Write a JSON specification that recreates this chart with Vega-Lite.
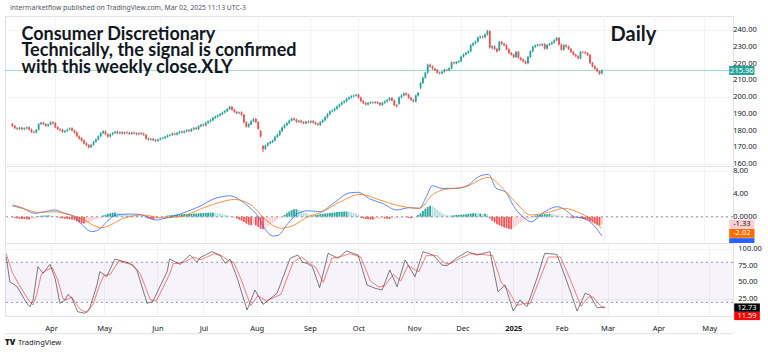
{
"$schema":"https://vega.github.io/schema/vega-lite/v6.json",
"padding":{"left":3,"top":4,"right":0,"bottom":0},
"background":"#ffffff",
"spacing":0,
"bounds":"flush",
"resolve":{"scale":{"color":"independent"}},
"config":{
 "font":"Noto Sans",
 "view":{"stroke":"#e0e3eb"},
 "axis":{"labelFont":"Noto Sans","labelFontSize":7.5,"labelColor":"#131722","gridColor":"#f0f3fa","gridWidth":1,"domain":false,"ticks":false,"title":null,"labelFlush":false,"labelOverlap":false}
},
"datasets":{
"months":[{"m":0},{"m":22},{"m":44},{"m":63},{"m":85},{"m":107},{"m":127},{"m":150},{"m":170},{"m":191},{"m":211},{"m":230},{"m":251},{"m":272}],
"pticks":[{"v":160},{"v":170},{"v":180},{"v":190},{"v":200},{"v":210},{"v":220},{"v":230},{"v":240}],
"mticks":[{"v":0,"t":"0.0000"},{"v":4,"t":"4.00"},{"v":8,"t":"8.00"}],
"sticks":[{"v":25},{"v":50},{"v":75},{"v":100}],
"bars":[
{"i":-18,"o":184.0,"h":184.6,"l":182.2,"c":182.8,"g":-0.1},
{"i":-17,"o":182.8,"h":183.3,"l":180.9,"c":181.5,"g":-0.2},
{"i":-16,"o":181.4,"h":182.0,"l":180.4,"c":181.0,"g":-0.3},
{"i":-15,"o":181.0,"h":182.2,"l":180.4,"c":181.6,"g":-0.35},
{"i":-14,"o":181.7,"h":182.3,"l":180.3,"c":180.9,"g":-0.4},
{"i":-13,"o":180.8,"h":181.9,"l":180.2,"c":181.3,"g":-0.4},
{"i":-12,"o":181.3,"h":182.4,"l":180.7,"c":181.8,"g":-0.45},
{"i":-11,"o":181.9,"h":182.5,"l":180.0,"c":180.6,"g":-0.5},
{"i":-10,"o":180.5,"h":181.1,"l":178.6,"c":179.2,"g":-0.45},
{"i":-9,"o":179.3,"h":179.9,"l":178.3,"c":178.9,"g":-0.4},
{"i":-8,"o":178.9,"h":181.0,"l":178.3,"c":180.4,"g":-0.3},
{"i":-7,"o":180.6,"h":184.4,"l":180.0,"c":183.8,"g":0.1},
{"i":-6,"o":183.9,"h":185.2,"l":183.3,"c":184.6,"g":0.15},
{"i":-5,"o":184.6,"h":185.2,"l":183.3,"c":183.9,"g":0.2},
{"i":-4,"o":183.8,"h":184.4,"l":182.2,"c":182.8,"g":0.2},
{"i":-3,"o":182.9,"h":184.2,"l":182.3,"c":183.6,"g":0.25},
{"i":-2,"o":183.7,"h":185.5,"l":183.1,"c":184.9,"g":0.2},
{"i":-1,"o":184.9,"h":185.5,"l":183.7,"c":184.3,"g":0.15},
{"i":0,"o":184.4,"h":185.0,"l":181.4,"c":182.0,"g":0.1},
{"i":1,"o":182.0,"h":182.6,"l":180.2,"c":180.8,"g":-0.1},
{"i":2,"o":180.7,"h":181.3,"l":179.6,"c":180.2,"g":-0.2},
{"i":3,"o":180.3,"h":180.9,"l":178.7,"c":179.3,"g":-0.3},
{"i":4,"o":179.2,"h":180.4,"l":178.6,"c":179.8,"g":-0.35},
{"i":5,"o":179.8,"h":181.2,"l":179.2,"c":180.6,"g":-0.4},
{"i":6,"o":180.7,"h":181.8,"l":180.1,"c":181.2,"g":-0.45},
{"i":7,"o":181.3,"h":181.9,"l":179.5,"c":180.1,"g":-0.5},
{"i":8,"o":180.0,"h":180.6,"l":178.2,"c":178.8,"g":-0.6},
{"i":9,"o":178.9,"h":179.5,"l":176.0,"c":176.6,"g":-0.8},
{"i":10,"o":176.5,"h":177.1,"l":174.6,"c":175.2,"g":-1.0},
{"i":11,"o":175.4,"h":176.0,"l":173.4,"c":174.0,"g":-1.15},
{"i":12,"o":174.1,"h":174.7,"l":171.7,"c":172.3,"g":-1.2},
{"i":13,"o":172.4,"h":173.0,"l":170.6,"c":171.2,"g":-1.1},
{"i":14,"o":171.3,"h":171.9,"l":169.2,"c":170.0,"g":-1.0},
{"i":15,"o":170.2,"h":172.0,"l":169.6,"c":171.4,"g":-0.8},
{"i":16,"o":171.5,"h":173.8,"l":170.9,"c":173.2,"g":-0.6},
{"i":17,"o":173.3,"h":175.2,"l":172.7,"c":174.6,"g":-0.45},
{"i":18,"o":174.7,"h":177.1,"l":174.1,"c":176.5,"g":-0.3},
{"i":19,"o":176.6,"h":179.0,"l":176.0,"c":178.4,"g":-0.15},
{"i":20,"o":178.5,"h":180.2,"l":177.9,"c":179.6,"g":0.2},
{"i":21,"o":179.5,"h":180.1,"l":177.2,"c":177.8,"g":0.35},
{"i":22,"o":177.7,"h":178.3,"l":175.8,"c":176.4,"g":0.5},
{"i":23,"o":176.5,"h":178.2,"l":175.9,"c":177.6,"g":0.6},
{"i":24,"o":177.7,"h":179.1,"l":177.1,"c":178.5,"g":0.7},
{"i":25,"o":178.6,"h":179.8,"l":178.0,"c":179.2,"g":0.75},
{"i":26,"o":179.3,"h":179.9,"l":177.8,"c":178.4,"g":0.7},
{"i":27,"o":178.4,"h":179.5,"l":177.8,"c":178.9,"g":0.6},
{"i":28,"o":179.0,"h":179.6,"l":177.6,"c":178.2,"g":0.5},
{"i":29,"o":178.2,"h":179.4,"l":177.6,"c":178.8,"g":0.45},
{"i":30,"o":178.9,"h":179.5,"l":177.9,"c":178.5,"g":0.4},
{"i":31,"o":178.6,"h":179.2,"l":177.4,"c":178.0,"g":0.35},
{"i":32,"o":178.0,"h":179.3,"l":177.4,"c":178.7,"g":0.3},
{"i":33,"o":178.8,"h":179.4,"l":177.7,"c":178.3,"g":0.25},
{"i":34,"o":178.3,"h":178.9,"l":177.2,"c":177.8,"g":0.2},
{"i":35,"o":177.8,"h":179.0,"l":177.2,"c":178.4,"g":0.15},
{"i":36,"o":178.5,"h":179.1,"l":177.5,"c":178.1,"g":0.1},
{"i":37,"o":178.1,"h":178.7,"l":176.9,"c":177.5,"g":0.05},
{"i":38,"o":177.4,"h":178.0,"l":174.6,"c":175.2,"g":-0.2},
{"i":39,"o":175.3,"h":175.9,"l":174.0,"c":174.6,"g":-0.35},
{"i":40,"o":174.6,"h":175.6,"l":174.0,"c":175.0,"g":-0.45},
{"i":41,"o":175.0,"h":175.6,"l":173.7,"c":174.3,"g":-0.5},
{"i":42,"o":174.3,"h":174.9,"l":173.2,"c":173.8,"g":-0.45},
{"i":43,"o":173.9,"h":175.2,"l":173.3,"c":174.6,"g":-0.35},
{"i":44,"o":174.7,"h":175.9,"l":174.1,"c":175.3,"g":-0.25},
{"i":45,"o":175.4,"h":176.2,"l":174.8,"c":175.6,"g":-0.1},
{"i":46,"o":175.6,"h":176.9,"l":175.0,"c":176.3,"g":0.1},
{"i":47,"o":176.3,"h":177.6,"l":175.7,"c":177.0,"g":0.2},
{"i":48,"o":177.1,"h":178.0,"l":176.5,"c":177.4,"g":0.25},
{"i":49,"o":177.4,"h":178.7,"l":176.8,"c":178.1,"g":0.3},
{"i":50,"o":178.2,"h":178.8,"l":177.1,"c":177.7,"g":0.35},
{"i":51,"o":177.7,"h":179.2,"l":177.1,"c":178.6,"g":0.4},
{"i":52,"o":178.6,"h":179.9,"l":178.0,"c":179.3,"g":0.4},
{"i":53,"o":179.4,"h":180.0,"l":178.3,"c":178.9,"g":0.45},
{"i":54,"o":178.9,"h":180.2,"l":178.3,"c":179.6,"g":0.45},
{"i":55,"o":179.6,"h":180.8,"l":179.0,"c":180.2,"g":0.5},
{"i":56,"o":180.3,"h":180.9,"l":179.1,"c":179.7,"g":0.5},
{"i":57,"o":179.7,"h":181.4,"l":179.1,"c":180.8,"g":0.5},
{"i":58,"o":180.8,"h":182.1,"l":180.2,"c":181.5,"g":0.55},
{"i":59,"o":181.6,"h":182.2,"l":180.4,"c":181.0,"g":0.55},
{"i":60,"o":181.0,"h":183.2,"l":180.4,"c":182.6,"g":0.6},
{"i":61,"o":182.6,"h":184.1,"l":182.0,"c":183.5,"g":0.6},
{"i":62,"o":183.6,"h":184.2,"l":182.5,"c":183.1,"g":0.65},
{"i":63,"o":183.1,"h":185.2,"l":182.5,"c":184.6,"g":0.65},
{"i":64,"o":184.6,"h":186.1,"l":184.0,"c":185.5,"g":0.7},
{"i":65,"o":185.5,"h":186.8,"l":184.9,"c":186.2,"g":0.7},
{"i":66,"o":186.2,"h":188.1,"l":185.6,"c":187.5,"g":0.7},
{"i":67,"o":187.5,"h":188.9,"l":186.9,"c":188.3,"g":0.65},
{"i":68,"o":188.3,"h":189.6,"l":187.7,"c":189.0,"g":0.6},
{"i":69,"o":189.0,"h":190.5,"l":188.4,"c":189.9,"g":0.5},
{"i":70,"o":189.9,"h":191.4,"l":189.3,"c":190.8,"g":0.45},
{"i":71,"o":190.8,"h":192.2,"l":190.2,"c":191.6,"g":0.35},
{"i":72,"o":191.6,"h":193.4,"l":191.0,"c":192.8,"g":0.25},
{"i":73,"o":192.8,"h":194.8,"l":192.2,"c":194.2,"g":0.15},
{"i":74,"o":194.1,"h":194.7,"l":191.9,"c":192.5,"g":0.05},
{"i":75,"o":192.5,"h":193.1,"l":190.6,"c":191.2,"g":-0.1},
{"i":76,"o":191.1,"h":191.7,"l":189.8,"c":190.4,"g":-0.3},
{"i":77,"o":190.4,"h":191.4,"l":189.8,"c":190.8,"g":-0.5},
{"i":78,"o":190.9,"h":191.5,"l":188.9,"c":189.5,"g":-0.7},
{"i":79,"o":189.4,"h":190.0,"l":184.4,"c":185.0,"g":-0.9},
{"i":80,"o":184.9,"h":185.5,"l":181.7,"c":182.3,"g":-1.2},
{"i":81,"o":182.3,"h":184.4,"l":181.7,"c":183.8,"g":-1.4},
{"i":82,"o":183.8,"h":186.2,"l":183.2,"c":185.6,"g":-1.5},
{"i":83,"o":185.6,"h":187.4,"l":185.0,"c":186.8,"g":-1.3},
{"i":84,"o":186.9,"h":187.5,"l":184.5,"c":185.1,"g":-1.5},
{"i":85,"o":185.0,"h":185.6,"l":180.4,"c":181.0,"g":-1.8},
{"i":86,"o":179.8,"h":180.4,"l":175.9,"c":176.5,"g":-2.1},
{"i":87,"o":170.8,"h":171.4,"l":167.0,"c":168.8,"g":-2.2},
{"i":88,"o":169.0,"h":171.6,"l":168.4,"c":171.0,"g":-2.0},
{"i":89,"o":171.1,"h":173.0,"l":170.5,"c":172.4,"g":-1.7},
{"i":90,"o":172.4,"h":173.8,"l":171.8,"c":173.2,"g":-1.4},
{"i":91,"o":173.2,"h":174.6,"l":172.6,"c":174.0,"g":-1.1},
{"i":92,"o":174.0,"h":176.8,"l":173.4,"c":176.2,"g":-0.8},
{"i":93,"o":176.2,"h":178.0,"l":175.6,"c":177.4,"g":-0.5},
{"i":94,"o":177.4,"h":180.2,"l":176.8,"c":179.6,"g":-0.25},
{"i":95,"o":179.6,"h":182.4,"l":179.0,"c":181.8,"g":0.0},
{"i":96,"o":181.8,"h":183.8,"l":181.2,"c":183.2,"g":0.3},
{"i":97,"o":183.2,"h":185.0,"l":182.6,"c":184.4,"g":0.6},
{"i":98,"o":184.4,"h":186.6,"l":183.8,"c":186.0,"g":0.9},
{"i":99,"o":186.0,"h":187.7,"l":185.4,"c":187.1,"g":1.15},
{"i":100,"o":187.2,"h":187.8,"l":185.9,"c":186.5,"g":1.3},
{"i":101,"o":186.5,"h":187.1,"l":184.6,"c":185.2,"g":1.3},
{"i":102,"o":185.2,"h":186.4,"l":184.6,"c":185.8,"g":1.2},
{"i":103,"o":185.9,"h":186.5,"l":184.4,"c":185.0,"g":1.0},
{"i":104,"o":185.0,"h":185.6,"l":183.8,"c":184.4,"g":0.8},
{"i":105,"o":184.4,"h":185.9,"l":183.8,"c":185.3,"g":0.6},
{"i":106,"o":185.4,"h":186.0,"l":184.3,"c":184.9,"g":0.45},
{"i":107,"o":184.9,"h":186.2,"l":184.3,"c":185.6,"g":0.35},
{"i":108,"o":185.6,"h":186.2,"l":184.2,"c":184.8,"g":0.3},
{"i":109,"o":184.8,"h":185.4,"l":183.4,"c":184.0,"g":0.3},
{"i":110,"o":184.0,"h":184.6,"l":182.8,"c":183.4,"g":0.35},
{"i":111,"o":183.4,"h":185.7,"l":182.8,"c":185.1,"g":0.45},
{"i":112,"o":185.1,"h":186.8,"l":184.5,"c":186.2,"g":0.5},
{"i":113,"o":186.2,"h":188.5,"l":185.6,"c":187.9,"g":0.55},
{"i":114,"o":187.9,"h":190.4,"l":187.3,"c":189.8,"g":0.6},
{"i":115,"o":189.8,"h":192.0,"l":189.2,"c":191.4,"g":0.65},
{"i":116,"o":191.4,"h":192.6,"l":190.8,"c":192.0,"g":0.7},
{"i":117,"o":192.0,"h":193.7,"l":191.4,"c":193.1,"g":0.75},
{"i":118,"o":193.1,"h":195.0,"l":192.5,"c":194.4,"g":0.8},
{"i":119,"o":194.4,"h":196.2,"l":193.8,"c":195.6,"g":0.85},
{"i":120,"o":195.6,"h":197.4,"l":195.0,"c":196.8,"g":0.85},
{"i":121,"o":196.8,"h":198.1,"l":196.2,"c":197.5,"g":0.9},
{"i":122,"o":197.5,"h":199.5,"l":196.9,"c":198.9,"g":0.9},
{"i":123,"o":198.9,"h":200.4,"l":198.3,"c":199.8,"g":0.85},
{"i":124,"o":199.8,"h":201.1,"l":199.2,"c":200.5,"g":0.8},
{"i":125,"o":200.5,"h":201.5,"l":199.9,"c":200.9,"g":0.7},
{"i":126,"o":200.9,"h":202.0,"l":200.3,"c":201.4,"g":0.55},
{"i":127,"o":201.4,"h":202.0,"l":199.1,"c":199.7,"g":0.4},
{"i":128,"o":199.7,"h":200.3,"l":197.0,"c":197.6,"g":-0.2},
{"i":129,"o":197.6,"h":198.2,"l":195.8,"c":196.4,"g":-0.3},
{"i":130,"o":196.4,"h":197.0,"l":195.0,"c":195.6,"g":-0.4},
{"i":131,"o":195.6,"h":197.1,"l":195.0,"c":196.5,"g":-0.45},
{"i":132,"o":196.5,"h":197.5,"l":195.9,"c":196.9,"g":-0.5},
{"i":133,"o":196.9,"h":197.5,"l":196.0,"c":196.6,"g":-0.5},
{"i":134,"o":196.6,"h":197.6,"l":196.0,"c":197.0,"g":-0.45},
{"i":135,"o":197.0,"h":197.6,"l":195.8,"c":196.4,"g":-0.4},
{"i":136,"o":196.4,"h":197.0,"l":194.8,"c":195.4,"g":-0.35},
{"i":137,"o":195.4,"h":197.2,"l":194.8,"c":196.6,"g":-0.3},
{"i":138,"o":196.6,"h":198.0,"l":196.0,"c":197.4,"g":-0.3},
{"i":139,"o":197.4,"h":198.9,"l":196.8,"c":198.3,"g":-0.35},
{"i":140,"o":198.3,"h":200.0,"l":197.7,"c":199.4,"g":-0.4},
{"i":141,"o":199.4,"h":200.0,"l":197.4,"c":198.0,"g":-0.35},
{"i":142,"o":198.0,"h":198.6,"l":194.6,"c":195.2,"g":-0.3},
{"i":143,"o":195.2,"h":195.8,"l":193.8,"c":194.4,"g":-0.25},
{"i":144,"o":196.0,"h":200.4,"l":195.4,"c":199.8,"g":-0.2},
{"i":145,"o":199.8,"h":201.6,"l":199.2,"c":201.0,"g":-0.15},
{"i":146,"o":201.0,"h":202.8,"l":200.4,"c":202.2,"g":-0.1},
{"i":147,"o":202.2,"h":202.8,"l":200.8,"c":201.4,"g":-0.1},
{"i":148,"o":201.4,"h":202.0,"l":199.0,"c":199.6,"g":-0.2},
{"i":149,"o":199.6,"h":200.2,"l":197.8,"c":198.4,"g":-0.25},
{"i":150,"o":198.4,"h":199.0,"l":196.8,"c":197.4,"g":-0.2},
{"i":151,"o":197.4,"h":201.5,"l":196.8,"c":200.9,"g":-0.1},
{"i":152,"o":200.9,"h":203.0,"l":200.3,"c":202.4,"g":0.3},
{"i":153,"o":205.5,"h":209.0,"l":204.9,"c":208.4,"g":0.6},
{"i":154,"o":208.4,"h":212.2,"l":207.8,"c":211.6,"g":1.0},
{"i":155,"o":211.6,"h":215.2,"l":211.0,"c":214.6,"g":1.4},
{"i":156,"o":214.6,"h":219.9,"l":214.0,"c":219.3,"g":1.7},
{"i":157,"o":219.3,"h":220.0,"l":217.7,"c":218.3,"g":1.9},
{"i":158,"o":218.3,"h":218.9,"l":216.4,"c":217.0,"g":1.8},
{"i":159,"o":217.0,"h":217.6,"l":215.6,"c":216.2,"g":1.5},
{"i":160,"o":216.2,"h":216.8,"l":214.0,"c":214.6,"g":1.2},
{"i":161,"o":214.6,"h":215.2,"l":213.6,"c":214.2,"g":0.9},
{"i":162,"o":214.2,"h":215.8,"l":213.6,"c":215.2,"g":0.6},
{"i":163,"o":215.2,"h":216.9,"l":214.6,"c":216.3,"g":0.4},
{"i":164,"o":216.3,"h":216.9,"l":215.4,"c":216.0,"g":0.3},
{"i":165,"o":216.0,"h":217.9,"l":215.4,"c":217.3,"g":0.2},
{"i":166,"o":217.3,"h":221.3,"l":216.7,"c":220.7,"g":0.2},
{"i":167,"o":220.7,"h":221.3,"l":219.6,"c":220.2,"g":0.25},
{"i":168,"o":220.2,"h":221.6,"l":219.6,"c":221.0,"g":0.3},
{"i":169,"o":221.0,"h":222.0,"l":220.4,"c":221.4,"g":0.3},
{"i":170,"o":221.4,"h":224.8,"l":220.8,"c":224.2,"g":0.35},
{"i":171,"o":224.2,"h":226.1,"l":223.6,"c":225.5,"g":0.4},
{"i":172,"o":225.5,"h":227.0,"l":224.9,"c":226.4,"g":0.45},
{"i":173,"o":226.4,"h":228.0,"l":225.8,"c":227.4,"g":0.5},
{"i":174,"o":227.4,"h":231.6,"l":226.8,"c":231.0,"g":0.55},
{"i":175,"o":231.0,"h":232.8,"l":230.4,"c":232.2,"g":0.6},
{"i":176,"o":232.2,"h":233.8,"l":231.6,"c":233.2,"g":0.6},
{"i":177,"o":233.2,"h":236.2,"l":232.6,"c":235.6,"g":0.55},
{"i":178,"o":235.6,"h":236.8,"l":235.0,"c":236.2,"g":0.55},
{"i":179,"o":236.2,"h":236.8,"l":235.2,"c":235.8,"g":0.5},
{"i":180,"o":235.8,"h":238.0,"l":235.2,"c":237.4,"g":0.5},
{"i":181,"o":237.4,"h":240.2,"l":236.8,"c":239.4,"g":0.45},
{"i":182,"o":239.4,"h":240.0,"l":229.0,"c":229.6,"g":-0.3},
{"i":183,"o":229.6,"h":231.0,"l":228.4,"c":230.4,"g":-0.7},
{"i":184,"o":230.4,"h":231.0,"l":228.2,"c":228.8,"g":-1.0},
{"i":185,"o":228.8,"h":229.4,"l":226.6,"c":227.2,"g":-1.3},
{"i":186,"o":228.0,"h":233.6,"l":227.4,"c":233.0,"g":-1.5},
{"i":187,"o":233.0,"h":233.6,"l":231.2,"c":231.8,"g":-1.7},
{"i":188,"o":231.8,"h":232.4,"l":230.4,"c":231.0,"g":-1.9},
{"i":189,"o":231.0,"h":231.6,"l":228.0,"c":228.6,"g":-2.0},
{"i":190,"o":228.6,"h":229.2,"l":225.8,"c":226.4,"g":-2.1},
{"i":191,"o":226.4,"h":227.0,"l":224.8,"c":225.4,"g":-2.2},
{"i":192,"o":225.4,"h":226.0,"l":223.4,"c":224.0,"g":-1.9},
{"i":193,"o":224.0,"h":227.6,"l":223.4,"c":227.0,"g":-1.6},
{"i":194,"o":227.0,"h":227.6,"l":222.9,"c":223.5,"g":-1.3},
{"i":195,"o":223.5,"h":224.1,"l":221.8,"c":222.4,"g":-1.0},
{"i":196,"o":222.4,"h":223.0,"l":220.7,"c":221.3,"g":-0.8},
{"i":197,"o":221.3,"h":221.9,"l":219.6,"c":220.2,"g":-0.6},
{"i":198,"o":220.2,"h":224.6,"l":219.6,"c":224.0,"g":-0.4},
{"i":199,"o":224.0,"h":228.0,"l":223.4,"c":227.4,"g":-0.2},
{"i":200,"o":227.4,"h":230.6,"l":226.8,"c":230.0,"g":0.1},
{"i":201,"o":230.0,"h":231.4,"l":229.4,"c":230.8,"g":0.2},
{"i":202,"o":230.8,"h":231.9,"l":230.2,"c":231.3,"g":0.3},
{"i":203,"o":231.3,"h":231.9,"l":230.4,"c":231.0,"g":0.35},
{"i":204,"o":231.0,"h":232.2,"l":230.4,"c":231.6,"g":0.4},
{"i":205,"o":231.6,"h":232.2,"l":228.4,"c":229.0,"g":0.45},
{"i":206,"o":229.0,"h":231.8,"l":228.4,"c":231.2,"g":0.45},
{"i":207,"o":231.2,"h":232.4,"l":230.6,"c":231.8,"g":0.5},
{"i":208,"o":231.8,"h":233.2,"l":231.2,"c":232.6,"g":0.45},
{"i":209,"o":232.6,"h":234.6,"l":232.0,"c":234.0,"g":0.4},
{"i":210,"o":234.0,"h":235.9,"l":233.4,"c":235.3,"g":0.3},
{"i":211,"o":235.3,"h":235.9,"l":230.8,"c":231.4,"g":0.2},
{"i":212,"o":231.4,"h":232.0,"l":227.8,"c":228.4,"g":0.1},
{"i":213,"o":228.4,"h":231.6,"l":227.8,"c":231.0,"g":0.05},
{"i":214,"o":231.0,"h":231.6,"l":229.6,"c":230.2,"g":0.0},
{"i":215,"o":230.2,"h":230.8,"l":228.2,"c":228.8,"g":-0.1},
{"i":216,"o":228.8,"h":229.4,"l":226.4,"c":227.0,"g":-0.2},
{"i":217,"o":227.0,"h":227.6,"l":224.8,"c":225.4,"g":-0.3},
{"i":218,"o":225.4,"h":226.0,"l":223.9,"c":224.5,"g":-0.25},
{"i":219,"o":224.5,"h":225.1,"l":222.6,"c":223.2,"g":-0.2},
{"i":220,"o":223.2,"h":227.6,"l":222.6,"c":227.0,"g":-0.3},
{"i":221,"o":227.0,"h":227.6,"l":226.2,"c":226.8,"g":-0.4},
{"i":222,"o":226.8,"h":227.4,"l":225.6,"c":226.2,"g":-0.5},
{"i":223,"o":226.2,"h":226.8,"l":224.6,"c":225.2,"g":-0.6},
{"i":224,"o":225.2,"h":225.8,"l":219.8,"c":220.4,"g":-0.8},
{"i":225,"o":220.4,"h":221.0,"l":217.8,"c":218.4,"g":-1.0},
{"i":226,"o":218.4,"h":219.0,"l":216.4,"c":217.0,"g":-1.2},
{"i":227,"o":217.0,"h":217.6,"l":214.8,"c":215.4,"g":-1.4},
{"i":228,"o":215.4,"h":216.0,"l":213.3,"c":213.9,"g":-1.5},
{"i":229,"o":214.2,"h":216.5,"l":213.6,"c":215.96,"g":-1.33}
],
"ml":[
{"i":-18,"v":2.03,"k":"m"},{"i":-14,"v":1.57,"k":"m"},{"i":-8.7,"v":0.59,"k":"m"},{"i":-4.5,"v":0.87,"k":"m"},{"i":-0.4,"v":1.17,"k":"m"},{"i":3.7,"v":0.59,"k":"m"},{"i":7.9,"v":0,"k":"m"},{"i":12,"v":-1.74,"k":"m"},{"i":15.3,"v":-2.6,"k":"m"},{"i":19,"v":-2.0,"k":"m"},{"i":21.5,"v":-0.87,"k":"m"},{"i":25.6,"v":0.3,"k":"m"},{"i":31,"v":0.47,"k":"m"},{"i":35,"v":0.4,"k":"m"},{"i":38.5,"v":0,"k":"m"},{"i":42,"v":-0.57,"k":"m"},{"i":46,"v":-0.28,"k":"m"},{"i":50,"v":0.17,"k":"m"},{"i":56,"v":1.04,"k":"m"},{"i":61.6,"v":2.03,"k":"m"},{"i":65.7,"v":3.0,"k":"m"},{"i":69.8,"v":3.48,"k":"m"},{"i":73,"v":3.65,"k":"m"},{"i":77,"v":3.0,"k":"m"},{"i":81,"v":1.74,"k":"m"},{"i":85,"v":0,"k":"m"},{"i":87.6,"v":-2.0,"k":"m"},{"i":91.3,"v":-3.36,"k":"m"},{"i":93.4,"v":-3.2,"k":"m"},{"i":97.5,"v":-1.15,"k":"m"},{"i":101.7,"v":0.59,"k":"m"},{"i":105.8,"v":1.04,"k":"m"},{"i":111,"v":0.87,"k":"m"},{"i":116.5,"v":2.33,"k":"m"},{"i":123.5,"v":4.17,"k":"m"},{"i":126.9,"v":4.24,"k":"m"},{"i":131.8,"v":3.08,"k":"m"},{"i":137,"v":2.33,"k":"m"},{"i":143,"v":1.17,"k":"m"},{"i":148.3,"v":1.57,"k":"m"},{"i":152.5,"v":1.46,"k":"m"},{"i":155.4,"v":3.48,"k":"m"},{"i":157.9,"v":5.39,"k":"m"},{"i":162,"v":4.93,"k":"m"},{"i":167.8,"v":4.93,"k":"m"},{"i":173,"v":5.5,"k":"m"},{"i":177.3,"v":6.96,"k":"m"},{"i":181.4,"v":7.37,"k":"m"},{"i":184.7,"v":4.93,"k":"m"},{"i":188.4,"v":4.35,"k":"m"},{"i":192.6,"v":1.46,"k":"m"},{"i":196.7,"v":-0.28,"k":"m"},{"i":199.2,"v":-0.87,"k":"m"},{"i":205,"v":0.87,"k":"m"},{"i":210.3,"v":1.74,"k":"m"},{"i":213.2,"v":1.29,"k":"m"},{"i":217.4,"v":0,"k":"m"},{"i":221.5,"v":-0.28,"k":"m"},{"i":224,"v":-0.87,"k":"m"},{"i":229,"v":-3.35,"k":"m"},
{"i":-18,"v":1.87,"k":"s"},{"i":-12.8,"v":1.34,"k":"s"},{"i":-7.4,"v":0.76,"k":"s"},{"i":-0.4,"v":0.87,"k":"s"},{"i":6.6,"v":0.3,"k":"s"},{"i":12,"v":-0.57,"k":"s"},{"i":17.3,"v":-1.74,"k":"s"},{"i":19.5,"v":-1.9,"k":"s"},{"i":23,"v":-1.45,"k":"s"},{"i":28.5,"v":-0.28,"k":"s"},{"i":37,"v":0.3,"k":"s"},{"i":43.8,"v":-0.17,"k":"s"},{"i":52,"v":0,"k":"s"},{"i":61.6,"v":1.46,"k":"s"},{"i":69.8,"v":2.6,"k":"s"},{"i":75,"v":3.0,"k":"s"},{"i":82,"v":2.03,"k":"s"},{"i":89,"v":-0.87,"k":"s"},{"i":94.6,"v":-2.0,"k":"s"},{"i":100,"v":-1.45,"k":"s"},{"i":105.8,"v":0,"k":"s"},{"i":111,"v":0.7,"k":"s"},{"i":119.4,"v":2.6,"k":"s"},{"i":127.7,"v":3.9,"k":"s"},{"i":136,"v":2.9,"k":"s"},{"i":144,"v":1.91,"k":"s"},{"i":152.5,"v":1.46,"k":"s"},{"i":157.9,"v":3.77,"k":"s"},{"i":162,"v":4.64,"k":"s"},{"i":172,"v":5.22,"k":"s"},{"i":181.4,"v":6.85,"k":"s"},{"i":186.8,"v":5.22,"k":"s"},{"i":192.6,"v":2.6,"k":"s"},{"i":199.2,"v":0.3,"k":"s"},{"i":207.5,"v":0.87,"k":"s"},{"i":213.2,"v":1.46,"k":"s"},{"i":220,"v":0.59,"k":"s"},{"i":224,"v":-0.28,"k":"s"},{"i":229,"v":-2.02,"k":"s"}
],
"st":[
{"i":-18.5,"v":88.5,"k":"K"},{"i":-17,"v":51,"k":"K"},{"i":-14,"v":43.5,"k":"K"},{"i":-10,"v":18.6,"k":"K"},{"i":-8.7,"v":13.5,"k":"K"},{"i":-7.4,"v":23.5,"k":"K"},{"i":-5.4,"v":73.5,"k":"K"},{"i":-3.3,"v":63.6,"k":"K"},{"i":-0.4,"v":77,"k":"K"},{"i":1.7,"v":56,"k":"K"},{"i":3.7,"v":18.6,"k":"K"},{"i":5.8,"v":23.5,"k":"K"},{"i":7,"v":32,"k":"K"},{"i":8.7,"v":26,"k":"K"},{"i":11,"v":6,"k":"K"},{"i":14,"v":3.6,"k":"K"},{"i":16,"v":11,"k":"K"},{"i":19,"v":46,"k":"K"},{"i":20.2,"v":66,"k":"K"},{"i":23,"v":58.5,"k":"K"},{"i":26.4,"v":85,"k":"K"},{"i":32.6,"v":78.6,"k":"K"},{"i":35.5,"v":68.5,"k":"K"},{"i":39.7,"v":18.6,"k":"K"},{"i":42,"v":21,"k":"K"},{"i":48,"v":66,"k":"K"},{"i":49,"v":85,"k":"K"},{"i":53.3,"v":77,"k":"K"},{"i":57.4,"v":91,"k":"K"},{"i":60.3,"v":80,"k":"K"},{"i":61.6,"v":87,"k":"K"},{"i":66.5,"v":96,"k":"K"},{"i":69.8,"v":91,"k":"K"},{"i":72,"v":78.6,"k":"K"},{"i":74,"v":85,"k":"K"},{"i":77,"v":56,"k":"K"},{"i":81,"v":8.5,"k":"K"},{"i":84.3,"v":38.5,"k":"K"},{"i":87.6,"v":17,"k":"K"},{"i":93.4,"v":33.6,"k":"K"},{"i":98.8,"v":86,"k":"K"},{"i":102,"v":91,"k":"K"},{"i":104,"v":80,"k":"K"},{"i":105.8,"v":78.6,"k":"K"},{"i":108,"v":73.5,"k":"K"},{"i":111,"v":42,"k":"K"},{"i":114.5,"v":93.5,"k":"K"},{"i":118.6,"v":86,"k":"K"},{"i":122,"v":97,"k":"K"},{"i":126.9,"v":91,"k":"K"},{"i":130.6,"v":46,"k":"K"},{"i":134,"v":41,"k":"K"},{"i":136.8,"v":38.5,"k":"K"},{"i":140,"v":68.5,"k":"K"},{"i":143,"v":43.5,"k":"K"},{"i":146.3,"v":83.5,"k":"K"},{"i":150.4,"v":58.5,"k":"K"},{"i":153.7,"v":96,"k":"K"},{"i":157.9,"v":91,"k":"K"},{"i":161.6,"v":76,"k":"K"},{"i":163.6,"v":75,"k":"K"},{"i":167.8,"v":87,"k":"K"},{"i":172,"v":96,"k":"K"},{"i":176,"v":91,"k":"K"},{"i":181.4,"v":96,"k":"K"},{"i":184.7,"v":36,"k":"K"},{"i":187.6,"v":46,"k":"K"},{"i":191,"v":7,"k":"K"},{"i":193.8,"v":23.5,"k":"K"},{"i":196.7,"v":13.5,"k":"K"},{"i":200.8,"v":56,"k":"K"},{"i":204,"v":93.5,"k":"K"},{"i":209,"v":92,"k":"K"},{"i":213.2,"v":51,"k":"K"},{"i":217.4,"v":7,"k":"K"},{"i":220.7,"v":33.6,"k":"K"},{"i":222.7,"v":31,"k":"K"},{"i":225.6,"v":12,"k":"K"},{"i":229,"v":12.73,"k":"K"},
{"i":-18.5,"v":93,"k":"D"},{"i":-16,"v":65,"k":"D"},{"i":-13,"v":45,"k":"D"},{"i":-9,"v":22,"k":"D"},{"i":-7.5,"v":16,"k":"D"},{"i":-6,"v":30,"k":"D"},{"i":-4,"v":62,"k":"D"},{"i":-2,"v":68,"k":"D"},{"i":0.5,"v":72,"k":"D"},{"i":2.7,"v":55,"k":"D"},{"i":5,"v":25,"k":"D"},{"i":6.5,"v":24,"k":"D"},{"i":8.5,"v":28,"k":"D"},{"i":10,"v":20,"k":"D"},{"i":12.5,"v":8,"k":"D"},{"i":15,"v":5,"k":"D"},{"i":17.5,"v":18,"k":"D"},{"i":20,"v":45,"k":"D"},{"i":21.8,"v":60,"k":"D"},{"i":24.5,"v":62,"k":"D"},{"i":28,"v":82,"k":"D"},{"i":34,"v":76,"k":"D"},{"i":37,"v":62,"k":"D"},{"i":41,"v":24,"k":"D"},{"i":43.5,"v":22,"k":"D"},{"i":49,"v":62,"k":"D"},{"i":50.5,"v":78,"k":"D"},{"i":55,"v":80,"k":"D"},{"i":59,"v":88,"k":"D"},{"i":62,"v":84,"k":"D"},{"i":67.5,"v":93,"k":"D"},{"i":71,"v":89,"k":"D"},{"i":73.5,"v":82,"k":"D"},{"i":75.5,"v":80,"k":"D"},{"i":78.5,"v":55,"k":"D"},{"i":82.5,"v":15,"k":"D"},{"i":85.5,"v":30,"k":"D"},{"i":89,"v":22,"k":"D"},{"i":95,"v":32,"k":"D"},{"i":100,"v":80,"k":"D"},{"i":103.5,"v":88,"k":"D"},{"i":106,"v":81,"k":"D"},{"i":109.5,"v":72,"k":"D"},{"i":112.5,"v":50,"k":"D"},{"i":116,"v":86,"k":"D"},{"i":120,"v":89,"k":"D"},{"i":123.5,"v":93,"k":"D"},{"i":128,"v":88,"k":"D"},{"i":132,"v":52,"k":"D"},{"i":135.5,"v":43,"k":"D"},{"i":138,"v":45,"k":"D"},{"i":141.5,"v":62,"k":"D"},{"i":144.5,"v":52,"k":"D"},{"i":147.5,"v":75,"k":"D"},{"i":152,"v":66,"k":"D"},{"i":155,"v":90,"k":"D"},{"i":159.5,"v":90,"k":"D"},{"i":163,"v":78,"k":"D"},{"i":165,"v":78,"k":"D"},{"i":169,"v":86,"k":"D"},{"i":173.5,"v":93,"k":"D"},{"i":177.5,"v":92,"k":"D"},{"i":182.5,"v":90,"k":"D"},{"i":186,"v":50,"k":"D"},{"i":189,"v":38,"k":"D"},{"i":192.5,"v":15,"k":"D"},{"i":195,"v":18,"k":"D"},{"i":198,"v":18,"k":"D"},{"i":202.5,"v":60,"k":"D"},{"i":205.5,"v":88,"k":"D"},{"i":210.5,"v":88,"k":"D"},{"i":214.5,"v":55,"k":"D"},{"i":219,"v":14,"k":"D"},{"i":222,"v":28,"k":"D"},{"i":224,"v":28,"k":"D"},{"i":227,"v":15,"k":"D"},{"i":229,"v":11.59,"k":"D"}
]
},
"vconcat":[
{"width":728,"height":150,
 "layer":[
  {"data":{"name":"months"},"mark":{"type":"rule","color":"#f0f3fa","strokeWidth":1},
   "encoding":{"x":{"field":"m","type":"quantitative","scale":{"domain":[-19,281.8],"nice":false,"zero":false},"axis":null}}},
  {"data":{"name":"bars"},"mark":{"type":"rule","strokeWidth":1},
   "encoding":{
    "x":{"field":"i","type":"quantitative"},
    "y":{"field":"l","type":"quantitative","scale":{"domain":[158.8,248.5],"nice":false,"zero":false},"axis":{"orient":"right","values":[160,170,180,190,200,210,220,230,240],"labels":false,"grid":true}},
    "y2":{"field":"h"},
    "color":{"condition":{"test":"datum.c >= datum.o","value":"#26a69a"},"value":"#ef5350"}}},
  {"data":{"name":"bars"},"mark":{"type":"bar","size":1.8},
   "encoding":{
    "x":{"field":"i","type":"quantitative"},
    "y":{"field":"o","type":"quantitative"},
    "y2":{"field":"c"},
    "color":{"condition":{"test":"datum.c >= datum.o","value":"#26a69a"},"value":"#ef5350"}}},
  {"data":{"values":[{}]},"mark":{"type":"rule","color":"#26a69a","opacity":0.45,"strokeWidth":1},"encoding":{"y":{"datum":215.96}}},
  {"data":{"name":"pticks"},"mark":{"type":"text","align":"left","baseline":"middle","fontSize":7.5,"color":"#131722"},
   "encoding":{"x":{"datum":284},"y":{"field":"v","type":"quantitative"},"text":{"field":"v","type":"quantitative","format":".2f"}}},
  {"data":{"values":[{}]},"mark":{"type":"text","text":"intermarketflow published on TradingView.com, Mar 02, 2025 11:13 UTC-3","align":"left","baseline":"middle","fontSize":6.8,"color":"#50535e"},"encoding":{"x":{"datum":-19},"y":{"datum":253.3}}},
  {"data":{"values":[{}]},"mark":{"type":"text","text":["Consumer Discretionary","Technically, the signal is confirmed","with this weekly close.XLY"],"align":"left","baseline":"middle","lineHeight":16.7,"fontSize":18,"font":"Lato","fontWeight":"bold","color":"#131722"},"encoding":{"x":{"datum":-14.2},"y":{"datum":237.4}}},
  {"data":{"values":[{}]},"mark":{"type":"text","text":"Daily","align":"left","baseline":"middle","fontSize":20,"font":"Lato","fontWeight":"bold","color":"#131722"},"encoding":{"x":{"datum":232.6},"y":{"datum":237.2}}},
  {"data":{"values":[{}]},"mark":{"type":"rect","color":"#26a69a"},"encoding":{"x":{"datum":282.3},"x2":{"datum":292.9},"y":{"datum":218.6},"y2":{"datum":213.2}}},
  {"data":{"values":[{}]},"mark":{"type":"text","text":"215.96","color":"#ffffff","fontSize":7.5,"align":"center","baseline":"middle"},"encoding":{"x":{"datum":287.6},"y":{"datum":215.9}}}
 ]},
{"width":728,"height":77,
 "layer":[
  {"data":{"name":"months"},"mark":{"type":"rule","color":"#f0f3fa","strokeWidth":1},
   "encoding":{"x":{"field":"m","type":"quantitative","scale":{"domain":[-19,281.8],"nice":false,"zero":false},"axis":null}}},
  {"data":{"name":"bars"},
   "transform":[{"window":[{"op":"lag","field":"g","as":"pg"}],"sort":[{"field":"i"}]}],
   "mark":{"type":"bar","size":1.8},
   "encoding":{
    "x":{"field":"i","type":"quantitative"},
    "y":{"field":"g","type":"quantitative","scale":{"domain":[-4.57,8.82],"nice":false,"zero":false},"axis":{"orient":"right","values":[0,4,8],"labels":false,"grid":true}},
    "y2":{"datum":0},
    "color":{"condition":[
      {"test":"datum.g >= 0 && (datum.pg == null || datum.g >= datum.pg)","value":"#26a69a"},
      {"test":"datum.g >= 0","value":"#b2dfdb"},
      {"test":"datum.pg != null && datum.g > datum.pg","value":"#ffcdd2"}],
      "value":"#ff5252"}}},
  {"data":{"values":[{}]},"mark":{"type":"rule","color":"#9598a1","strokeDash":[2,3],"strokeWidth":1},"encoding":{"y":{"datum":0}}},
  {"data":{"name":"ml"},"mark":{"type":"line","strokeWidth":1,"interpolate":"monotone"},
   "encoding":{
    "x":{"field":"i","type":"quantitative"},
    "y":{"field":"v","type":"quantitative"},
    "color":{"field":"k","type":"nominal","scale":{"domain":["m","s"],"range":["#2962ff","#ff6d00"]},"legend":null},
    "opacity":{"value":0.75}}},
  {"data":{"name":"mticks"},"mark":{"type":"text","align":"left","baseline":"middle","fontSize":7.5,"color":"#131722"},
   "encoding":{"x":{"datum":284},"y":{"field":"v","type":"quantitative"},"text":{"field":"t"}}},
  {"data":{"values":[{}]},"mark":{"type":"rect","color":"#ffcdd2"},"encoding":{"x":{"datum":282.3},"x2":{"datum":292.9},"y":{"datum":-0.5},"y2":{"datum":-2.05}}},
  {"data":{"values":[{}]},"mark":{"type":"text","text":"-1.33","color":"#131722","fontSize":7.5,"align":"center","baseline":"middle"},"encoding":{"x":{"datum":287.6},"y":{"datum":-1.27}}},
  {"data":{"values":[{}]},"mark":{"type":"rect","color":"#ff6d00"},"encoding":{"x":{"datum":282.3},"x2":{"datum":292.9},"y":{"datum":-2.11},"y2":{"datum":-3.67}}},
  {"data":{"values":[{}]},"mark":{"type":"text","text":"-2.02","color":"#ffffff","fontSize":7.5,"align":"center","baseline":"middle"},"encoding":{"x":{"datum":287.6},"y":{"datum":-2.89}}},
  {"data":{"values":[{}]},"mark":{"type":"rect","color":"#2962ff"},"encoding":{"x":{"datum":282.3},"x2":{"datum":292.9},"y":{"datum":-3.73},"y2":{"datum":-4.57}}}
 ]},
{"width":728,"height":73,
 "layer":[
  {"data":{"values":[{}]},"mark":{"type":"rect","color":"#7e57c2","opacity":0.07},"encoding":{"y":{"datum":80,"type":"quantitative","scale":{"domain":[-0.45,109],"nice":false,"zero":false},"axis":{"orient":"right","values":[25,50,75,100],"labels":false,"grid":true}},"y2":{"datum":20}}},
  {"data":{"values":[{}]},"mark":{"type":"rule","color":"#9598a1","strokeDash":[2,3],"strokeWidth":1},"encoding":{"y":{"datum":80}}},
  {"data":{"values":[{}]},"mark":{"type":"rule","color":"#9598a1","strokeDash":[2,3],"strokeWidth":1},"encoding":{"y":{"datum":20}}},
  {"data":{"name":"st"},"mark":{"type":"line","strokeWidth":1},
   "encoding":{
    "x":{"field":"i","type":"quantitative","scale":{"domain":[-19,281.8],"nice":false,"zero":false},
      "axis":{"orient":"bottom","grid":true,"values":[0,22,44,63,85,107,127,150,170,191,211,230,251,272],
      "labelExpr":"['Apr','May','Jun','Jul','Aug','Sep','Oct','Nov','Dec','2025','Feb','Mar','Apr','May'][indexof([0,22,44,63,85,107,127,150,170,191,211,230,251,272], datum.value)]",
      "labelPadding":8,"labelFontWeight":{"condition":{"test":"datum.value == 191","value":"bold"},"value":"normal"}}},
    "y":{"field":"v","type":"quantitative"},
    "color":{"field":"k","type":"nominal","scale":{"domain":["K","D"],"range":["#000000","#ff0000"]},"legend":null},
    "opacity":{"value":0.5}}},
  {"data":{"name":"sticks"},"mark":{"type":"text","align":"left","baseline":"middle","fontSize":7.5,"color":"#131722"},
   "encoding":{"x":{"datum":284},"y":{"field":"v","type":"quantitative"},"text":{"field":"v","type":"quantitative","format":".2f"}}},
  {"data":{"values":[{}]},"mark":{"type":"rule","color":"#e0e3eb","strokeWidth":1},"encoding":{"y":{"datum":-27}}},
  {"data":{"values":[{}]},"mark":{"type":"rect","color":"#000000"},"encoding":{"x":{"datum":282.3},"x2":{"datum":292.9},"y":{"datum":18.4},"y2":{"datum":5.8}}},
  {"data":{"values":[{}]},"mark":{"type":"text","text":"12.73","color":"#ffffff","fontSize":7.5,"align":"center","baseline":"middle"},"encoding":{"x":{"datum":287.6},"y":{"datum":12.0}}},
  {"data":{"values":[{}]},"mark":{"type":"rect","color":"#ff0000"},"encoding":{"x":{"datum":282.3},"x2":{"datum":292.9},"y":{"datum":5.6},"y2":{"datum":-6.6}}},
  {"data":{"values":[{}]},"mark":{"type":"text","text":"11.59","color":"#ffffff","fontSize":7.5,"align":"center","baseline":"middle"},"encoding":{"x":{"datum":287.6},"y":{"datum":-0.4}}},
  {"data":{"values":[{}]},"mark":{"type":"text","text":"TV","align":"left","baseline":"middle","fontSize":8,"fontWeight":900,"color":"#131722"},"encoding":{"x":{"datum":-19},"y":{"datum":-40.5}}},
  {"data":{"values":[{}]},"mark":{"type":"text","text":"TradingView","align":"left","baseline":"middle","fontSize":7.5,"color":"#131722"},"encoding":{"x":{"datum":-13.6},"y":{"datum":-40.5}}}
 ]}
]
}
